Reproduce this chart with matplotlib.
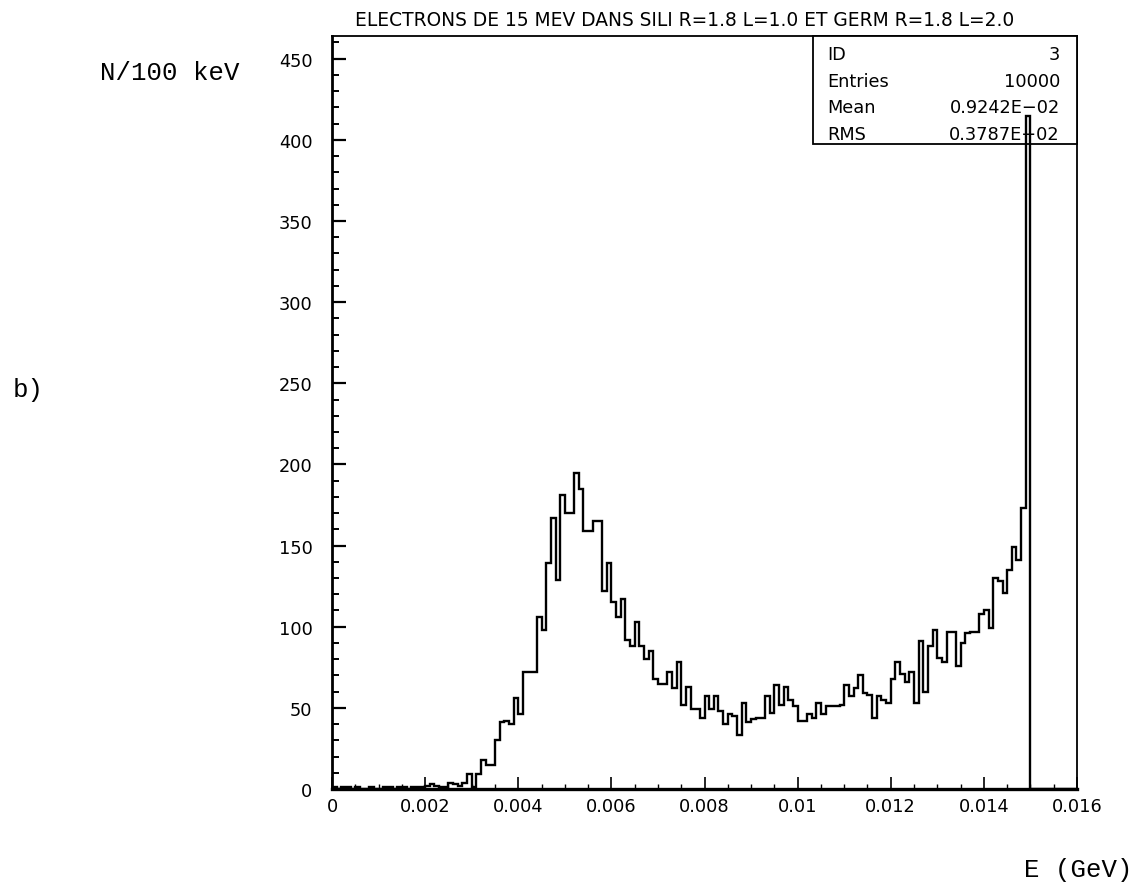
import numpy as np
import matplotlib
matplotlib.use("Agg")
import matplotlib.pyplot as plt
from matplotlib.patches import Rectangle

# ---- data: counts per 100 keV bin, 0 .. 0.016 GeV (160 bins) ----
bin_width = 0.0001
counts = [
    # 0.0000 - 0.0019
    1, 0, 1, 1, 0, 1, 0, 0, 1, 0, 0, 1, 1, 0, 1, 1, 0, 1, 1, 1,
    # 0.0020 - 0.0030
    2, 3, 2, 1, 1, 4, 3, 2, 4, 9, 1,
    # 0.0031 - 0.0043
    9, 18, 15, 15, 30, 41, 42, 40, 56, 46, 72, 72, 72,
    # 0.0044 - 0.0057
    106, 98, 139, 167, 129, 181, 170, 170, 195, 185, 159, 159, 165, 165,
    # 0.0058 - 0.0068
    122, 139, 115, 106, 117, 92, 88, 103, 88, 80, 85,
    # 0.0069 - 0.0079
    68, 65, 65, 72, 62, 78, 52, 63, 49, 49, 44,
    # 0.0080 - 0.0092
    57, 49, 57, 48, 40, 46, 45, 33, 53, 41, 43, 44, 44,
    # 0.0093 - 0.0106
    57, 47, 64, 52, 63, 55, 51, 42, 42, 46, 44, 53, 46, 51,
    # 0.0107 - 0.0119
    51, 51, 52, 64, 57, 62, 70, 59, 58, 44, 57, 55, 53,
    # 0.0120 - 0.0135
    68, 78, 71, 66, 72, 53, 91, 60, 88, 98, 81, 78, 97, 97, 76, 90,
    # 0.0136 - 0.0149
    96, 97, 97, 108, 110, 99, 130, 128, 121, 135, 149, 141, 173, 415,
    # 0.0150 - 0.0159
    0, 0, 0, 0, 0, 0, 0, 0, 0, 0,
]
x_ticks = [0, 0.002, 0.004, 0.006, 0.008, 0.010, 0.012, 0.014, 0.016]
x_tick_labels = ["0", "0.002", "0.004", "0.006", "0.008", "0.01", "0.012", "0.014", "0.016"]
y_ticks = [0, 50, 100, 150, 200, 250, 300, 350, 400, 450]

title = "ELECTRONS DE 15 MEV DANS SILI R=1.8 L=1.0 ET GERM R=1.8 L=2.0"
stats_rows = [("ID", "3"), ("Entries", "10000"), ("Mean", "0.9242E\u221202"), ("RMS", "0.3787E\u221202")]

W, H = 1148, 887
fig = plt.figure(figsize=(W / 100, H / 100), dpi=100)
fig.patch.set_facecolor("white")

L, R, T, B = 332, 1077, 37, 790
ax = fig.add_axes([L / W, 1 - B / H, (R - L) / W, (B - T) / H])

edges = np.arange(len(counts) + 1) * bin_width
ax.stairs(counts, edges, color="black", lw=1.7, baseline=0, zorder=5)

ax.set_xlim(0, 0.016)
ax.set_ylim(0, 464)

ax.set_xticks(x_ticks)
ax.set_xticklabels(x_tick_labels)
ax.set_xticks(np.arange(0, 0.01601, 0.0005), minor=True)
ax.set_yticks(y_ticks)
ax.set_yticks(np.arange(0, 461, 10), minor=True)

for lab in ax.get_xticklabels() + ax.get_yticklabels():
    lab.set_fontfamily("DejaVu Sans")
    lab.set_fontsize(12.8)

ax.tick_params(axis="x", which="major", direction="in", length=9, width=1.2, pad=6)
ax.tick_params(axis="x", which="minor", direction="in", length=3.5, width=1.0)
ax.tick_params(axis="y", which="major", direction="in", length=10, width=1.6, pad=14)
ax.tick_params(axis="y", which="minor", direction="in", length=5, width=1.4)
ax.tick_params(top=False, right=False, which="both")

ax.spines["left"].set_linewidth(2.0)
ax.spines["bottom"].set_linewidth(2.4)
ax.spines["top"].set_linewidth(1.3)
ax.spines["right"].set_linewidth(1.3)


def fx(px):
    return px / W


def fy(py):
    return 1 - py / H


box = Rectangle((fx(813), fy(145)), fx(1077) - fx(813), fy(37) - fy(145),
                transform=fig.transFigure, facecolor="white", edgecolor="black",
                lw=1.3, zorder=3)
ax.add_artist(box)
box.set_clip_on(False)
row_y = [55, 82, 108, 135]
for (k, v), yy in zip(stats_rows, row_y):
    ax.text(fx(827), fy(yy), k, transform=fig.transFigure, ha="left", va="center",
            fontsize=12.8, family="DejaVu Sans", zorder=4)
    ax.text(fx(1060), fy(yy), v, transform=fig.transFigure, ha="right", va="center",
            fontsize=12.8, family="DejaVu Sans", zorder=4)

fig.text(fx(685), fy(20), title, ha="center", va="center", fontsize=13.4, family="DejaVu Sans")

mono = "Liberation Mono"
fig.text(fx(100), fy(73), "N/100 keV", ha="left", va="center", fontsize=18.5, family=mono)
fig.text(fx(13), fy(390), "b)", ha="left", va="center", fontsize=18.5, family=mono)
fig.text(fx(1133), fy(870), "E (GeV)", ha="right", va="center", fontsize=18.5, family=mono)

fig.savefig("out.png", dpi=100, facecolor="white")
